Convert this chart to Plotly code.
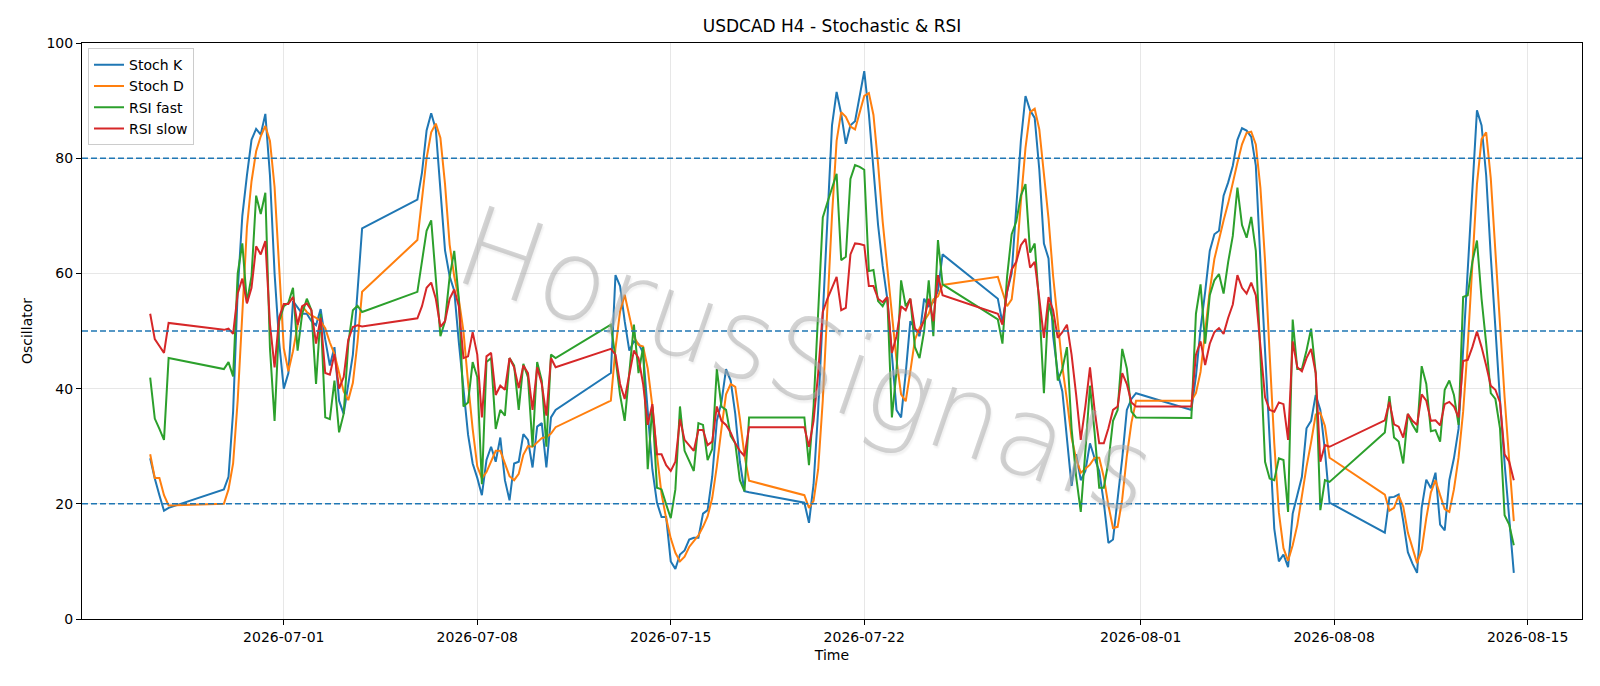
import pandas as pd
import plotly.graph_objects as go

# ---- time index: H4 bars, weekend gaps (first bar of each block, number of bars)
segment_starts = ["2026-06-26 04:00", "2026-06-28 20:00", "2026-07-05 20:00", "2026-07-12 20:00",
                  "2026-07-19 20:00", "2026-07-26 20:00", "2026-08-02 20:00", "2026-08-09 20:00"]
segment_bars = [5, 31, 31, 31, 31, 31, 31, 29]

# ---- series values
stoch_k = [
    27.9, 24.4, 21.5, 18.8, 19.3,
    22.5, 24.7, 36, 57, 70, 77, 83.2, 85.1, 84.1, 87.7, 77, 60, 48, 40, 42.7, 55.2, 54, 53, 53, 51.7,
    51, 53.8, 48.5, 44, 47.2, 37.9, 35.6, 40.8, 45.9, 56.8, 67.8,
    72.8, 77.5, 84.8, 87.8, 85, 75, 64, 59.5, 57, 48, 40, 32, 27, 24.5, 21.5, 27.6, 29.9, 27.3, 31.5, 24.1,
    20.6, 27, 27.3, 32.1, 31.1, 26.3, 33.4, 34, 26.3, 35, 36.3,
    42.7, 59.7, 57.8, 51.7, 46.6, 48.2, 47.8, 46.2, 35.6, 26, 20.2, 17.7, 17.7, 10, 8.7, 11.2, 11.9, 13.8,
    14.1, 14.1, 18.3, 18.9, 24.7, 34.4, 37.6, 43.4, 41.4, 35.6, 27.3, 22.2, 22,
    20.2, 16.7, 23.4, 36.3, 53, 71.6, 85.7, 91.5, 87.7, 82.5, 85.7, 86.4, 90.9, 95.1, 87.7, 78, 68.4, 61.3,
    55.6, 45.9, 36.3, 35, 42.7, 51.7, 50.4, 49.1, 55.6, 54.3, 55, 57, 63.3,
    55.6, 51.4, 56.8, 60, 71, 83, 90.8, 88.3, 87, 78, 65.2, 62.6, 49.1, 42.7, 39.5, 31.8, 23.1, 28.6, 24.1,
    25.7, 30.5, 27.9, 25.7, 20.2, 13.2, 13.8, 20.9, 27.9, 36.3, 38.2, 39.2,
    36.3, 42.1, 50.4, 56.8, 63.9, 66.8, 67.4, 73.5, 75.8, 78.7, 83.2, 85.2, 84.8, 83.7, 78.7, 62, 45.9, 29.9,
    15.7, 10, 11.2, 9, 18.3, 21.5, 24.7, 33.1, 34.4, 38.9, 36.3, 29.2, 20.2,
    15, 21.1, 21.2, 21.6, 17, 11.6, 9.6, 8, 19.3, 24.2, 22.7, 25.4, 16.4, 15.4, 24.1, 27.9, 33, 47, 62, 76,
    88.3, 85.7, 77, 63, 50, 38, 27, 17, 8,
]
stoch_d = [
    28.6, 24.5, 24.5, 21.5, 19.7,
    20, 22.5, 27, 38, 54, 68, 76, 81.2, 83.8, 85.6, 83, 75, 61, 47, 43, 46.5, 51, 54.3, 53.3, 52.7,
    52.3, 51.7, 50.5, 48, 46, 42.5, 39.5, 38, 41, 48, 56.8,
    65.8, 73.5, 80, 84.5, 86, 83.5, 75.5, 65, 59.5, 55.5, 50, 41, 33, 26.5, 24.4, 25.5, 27.5, 29.2, 29.2, 26.9,
    24.8, 24.1, 25.2, 28.5, 30, 29.9, 30.6, 31.4, 31.6, 32.2, 33.3,
    37.9, 47, 53.4, 56.3, 52.5, 49, 47.6, 47.3, 43.5, 37, 28.5, 21.7, 17.5, 14, 11.5, 10, 10.8, 12.5,
    13.5, 14.5, 16, 17.8, 21, 26.5, 33, 39, 40.8, 40.3, 34.8, 28.4, 24,
    21.5, 19.3, 20.5, 26, 38, 54, 70, 83, 88, 87.2, 85.5, 85, 87.7, 90.8, 91.3, 87.5, 79, 69,
    61, 53, 45, 39, 37.8, 43, 48.5, 50.5, 51.7, 53, 55.5, 56, 58,
    59.4, 56.8, 54.3, 55.5, 62, 72.5, 81.8, 88, 88.6, 85, 77.5, 69.5, 59.5, 51.5, 43.8, 38, 31.5, 27.8, 25.4,
    26.1, 26.8, 28, 28, 24.6, 19.7, 15.8, 16, 20.8, 28.3, 34.1, 37.9,
    37.9, 39.2, 42.9, 49.8, 57, 62.5, 66, 69.2, 72.2, 76, 79.2, 82.4, 84.4, 84.6, 82.4, 74.8, 62.2, 45.9,
    30.5, 18.5, 12.3, 10.1, 12.8, 16.3, 21.5, 26.4, 30.7, 35.5, 35.8, 33.5, 28,
    21.6, 18.8, 19.3, 21.4, 19.5, 15, 12.5, 9.7, 12, 17.5, 22, 24.1, 21.5, 19.1, 18.6, 22.5, 28, 36, 47.5, 62,
    75.5, 83.3, 84.5, 76.5, 63.5, 50.3, 38.5, 27.5, 17,
]
rsi_fast = [
    41.9, 34.8, 33.0, 31.1, 45.3,
    43.4, 44.6, 42.1, 60, 65.2, 54.9, 59.5, 73.5, 70.3, 74, 47, 34.4, 51.7, 54.3, 54.9, 57.5, 46.6, 53,
    55.6, 53.6, 40.8, 53, 35, 34.7, 41.4, 32.4, 35.6, 47.8, 53.6, 54.4, 53.3,
    56.8, 62, 67.4, 69.2, 59.4, 49.1, 51.7, 59.4, 63.9, 55.6, 36.9, 37.6, 44.6, 42, 23.4, 44.6, 45.3, 33,
    36.3, 35.3, 45.3, 44, 36.3, 44.3, 42, 29.9, 44.6, 41.4, 29.9, 45.9, 45.3,
    51.1, 45.3, 38.9, 34.4, 42.7, 51.1, 42.7, 47.2, 26, 36.9, 22.8, 22.5, 19.9, 17.5, 22.5, 36.9, 29.2, 27.3,
    25.7, 34, 33.7, 27.6, 29.5, 43.4, 36.9, 36.3, 31.8, 30.5, 24.1, 22.2, 35,
    35, 26.7, 36.9, 53.6, 69.7, 72.3, 74.8, 77.3, 62.3, 62.9, 76.4, 78.8, 78.5, 78, 60.4, 60.6, 55.2, 54.3,
    55.9, 35, 43, 58.8, 54.3, 55.6, 47.2, 45.3, 50, 58.8, 49.1, 65.8, 58.1,
    52, 47.8, 59.4, 66.8, 69, 73.5, 75.5, 63.6, 65.2, 54.3, 39.2, 54.9, 51.7, 41.4, 43.4, 47.2, 33.1, 24.7,
    18.6, 29.2, 40.5, 32.4, 22.8, 22.8, 27.3, 34.4, 36.3, 46.9, 43.5, 36, 35,
    34.9, 53, 58.1, 47.8, 56.2, 58.8, 59.9, 56.5, 62, 66.5, 74.9, 68.4, 66.2, 69.8, 63.9, 45.9, 27.3, 24.4,
    24.1, 27.9, 27.6, 18.6, 52, 43.4, 43.4, 46.6, 50.4, 42.7, 18.9, 24.1, 23.8,
    32.4, 38.7, 31.5, 30.8, 27, 35.6, 33.7, 32.4, 43.9, 40.8, 32.6, 32.8, 30.8, 39.8, 41.4, 38.9, 33.7, 55.9,
    56.2, 62, 65.7, 55.6, 47.8, 39.2, 38.2, 33.1, 18, 16.4, 12.8,
]
rsi_slow = [
    53.0, 48.6, 47.4, 46.2, 51.4,
    50.2, 50.4, 49.5, 56.5, 59.1, 54.8, 57.5, 64.7, 63.3, 65.6, 51.2, 43.7, 52.4, 54.7, 54.7, 55.9, 51.1, 54.3,
    54.8, 53.6, 47.8, 52.3, 42.7, 42.4, 46, 40, 42, 48.5, 50.7, 51, 50.8,
    52.2, 54.3, 57.5, 58.4, 55.6, 50.7, 51.7, 55.6, 57.2, 54.3, 45.3, 45.6, 49.8, 45.9, 35, 45.6, 46.2, 38.9,
    40.5, 39.8, 45.3, 43.7, 40.1, 44, 42.7, 36.3, 43.7, 40.8, 35.3, 45.3, 43.7,
    46.9, 45.9, 40.8, 38.2, 42.1, 46.6, 45.3, 40.8, 33.7, 37.3, 28.6, 28.6, 26.7, 25.7, 27.3, 34.7, 31.1, 30.2,
    29.2, 32.8, 32.8, 30.2, 30.8, 36.9, 34.4, 33.7, 32.4, 30.5, 29.2, 28.3, 33.3,
    33.3, 29.9, 34.4, 42.7, 53.3, 55.6, 57.5, 59.4, 53.6, 54, 63.3, 65.2, 65.1, 64.9, 57.8, 57.8, 55.6, 55,
    55.9, 46.2, 49.1, 54.3, 53.6, 55.6, 50.4, 49.8, 52, 55.6, 51.7, 59.7, 56.2,
    53, 51.1, 56.8, 60.7, 62, 64.9, 66, 61, 62, 55.6, 48.8, 55.9, 53.6, 48.8, 49.8, 51.1, 45.9, 38.9,
    31.1, 36.9, 43.7, 36.3, 30.5, 30.5, 33.1, 36.3, 36.9, 42.7, 40.8, 37.6, 36.9,
    36.9, 45.9, 48.2, 44.1, 47.8, 49.8, 50.5, 49.5, 52.3, 54.6, 59.7, 57.5, 56.5, 58.4, 56.2, 47.8, 38.5, 36.3,
    36, 37.6, 37.3, 31.1, 48.2, 43.7, 43, 45.3, 46.9, 42.7, 27.3, 30.2, 29.9,
    34.5, 37.7, 33.8, 33.4, 31.5, 35.6, 34.4, 33.7, 39, 37.9, 34.4, 34.5, 33.6, 37.3, 37.7, 36.9, 35, 44.8,
    45, 47.2, 49.9, 47.2, 44, 40.5, 39.8, 37.6, 28.6, 27.3, 24.1,
]

levels = [80, 50, 20]
tick_labels = ["2026-07-01", "2026-07-08", "2026-07-15", "2026-07-22",
               "2026-08-01", "2026-08-08", "2026-08-15"]

times = []
for s, n in zip(segment_starts, segment_bars):
    times.extend(pd.date_range(s, periods=n, freq="4h"))
times = pd.DatetimeIndex(times)

series = [("Stoch K", stoch_k, "#1f77b4"), ("Stoch D", stoch_d, "#ff7f0e"),
          ("RSI fast", rsi_fast, "#2ca02c"), ("RSI slow", rsi_slow, "#d62728")]

FONT = "DejaVu Sans"
fig = go.Figure()
for name, vals, col in series:
    fig.add_trace(go.Scatter(x=times, y=vals, mode="lines", name=name,
                             line=dict(color=col, width=2)))

for lv in levels:
    fig.add_shape(type="line", xref="paper", x0=0, x1=1, yref="y", y0=lv, y1=lv,
                  line=dict(color="#1f77b4", width=1.5, dash="6px,3px"), layer="above")

span = times[-1] - times[0]
xr = [times[0] - 0.05 * span, times[-1] + 0.05 * span]

fig.add_annotation(text="HorusSignals", xref="paper", yref="paper", x=0.483, y=0.45,
                   showarrow=False, textangle=19,
                   font=dict(family="DejaVu Sans ExtraLight, DejaVu Sans", size=112, weight=200,
                             color="rgba(175,175,175,0.55)",
                             shadow="2px 2px 2px rgba(0,0,0,0.10)"))

axis_common = dict(showline=True, linecolor="black", linewidth=1, mirror=True,
                   ticks="outside", ticklen=5, tickcolor="black",
                   showgrid=True, gridcolor="rgba(176,176,176,0.3)", gridwidth=1,
                   zeroline=False, tickfont=dict(family=FONT, size=14, color="black"))

fig.update_layout(
    width=1600, height=686,
    margin=dict(l=82, r=18, t=43, b=67),
    paper_bgcolor="white", plot_bgcolor="white",
    font=dict(family=FONT, color="black"),
    title=dict(text="USDCAD H4 - Stochastic & RSI", x=0.5, xref="paper", xanchor="center",
               y=1 - 26 / 686, yref="container", yanchor="middle",
               font=dict(family=FONT, size=17, color="black")),
    xaxis=dict(type="date", range=xr, tickvals=tick_labels, ticktext=tick_labels,
               title=dict(text="Time", font=dict(family=FONT, size=14), standoff=6),
               **axis_common),
    yaxis=dict(range=[0, 100], tickvals=[0, 20, 40, 60, 80, 100],
               title=dict(text="Oscillator", font=dict(family=FONT, size=14), standoff=10),
               **axis_common),
    legend=dict(x=0.004, y=0.991, xanchor="left", yanchor="top",
                bgcolor="rgba(255,255,255,0.8)", bordercolor="#cccccc", borderwidth=1,
                font=dict(family=FONT, size=14, color="black")),
    showlegend=True,
)

fig.write_html("out.html", config={"displayModeBar": False},
               post_script="document.body.style.margin='0';document.body.style.overflow='hidden';")
